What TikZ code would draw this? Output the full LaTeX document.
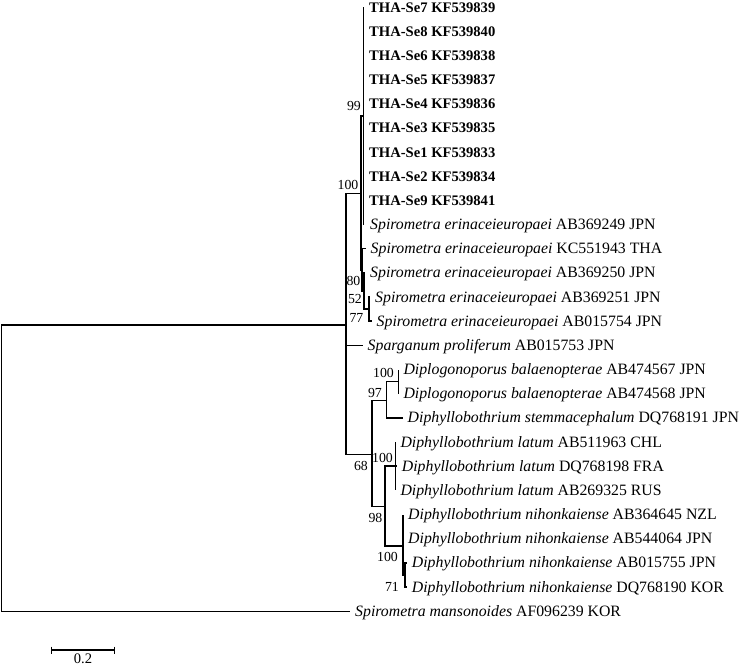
\documentclass[tikz,border=0pt]{standalone}
\usepackage{fontspec}
\setmainfont{Liberation Serif}
\usetikzlibrary{calc}
\begin{document}
\begin{tikzpicture}[x=1pt,y=-1pt,
  branch/.style={line width=1.5pt, line join=miter},
  taxon/.style={anchor=base west, inner sep=0pt, font=\fontsize{15.8}{18}\selectfont},
  thaon/.style={anchor=base west, inner sep=0pt, font=\fontsize{14.6}{17}\selectfont\bfseries},
  boot/.style={anchor=base east, inner sep=0pt, font=\fontsize{13.8}{16}\selectfont}]
\useasboundingbox (0,0) rectangle (743,665);
% leaf tips
\coordinate (L0) at (363.7,7.0);
\coordinate (L1) at (363.7,31.17);
\coordinate (L2) at (363.7,55.34);
\coordinate (L3) at (363.7,79.51);
\coordinate (L4) at (363.7,103.68);
\coordinate (L5) at (363.7,127.85);
\coordinate (L6) at (363.7,152.02);
\coordinate (L7) at (363.7,176.19);
\coordinate (L8) at (363.7,200.36);
\coordinate (L9) at (363.7,224.53);
\coordinate (L10) at (365.5,248.7);
\coordinate (L11) at (365,272.87);
\coordinate (L12) at (370,297.04);
\coordinate (L13) at (371.5,321.21);
\coordinate (L14) at (362.5,345.38);
\coordinate (L15) at (398.3,369.55);
\coordinate (L16) at (398.3,393.72);
\coordinate (L17) at (402.5,417.89);
\coordinate (L18) at (395.3,442.06);
\coordinate (L19) at (396.7,466.23);
\coordinate (L20) at (395.3,490.4);
\coordinate (L21) at (403,514.57);
\coordinate (L22) at (403,538.74);
\coordinate (L23) at (406.7,562.91);
\coordinate (L24) at (406.7,587.08);
\coordinate (L25) at (350,611.25);
% internal nodes
\coordinate (B) at (363.7,115.8);
\coordinate (E) at (369,309.1);
\coordinate (D) at (364,291);
\coordinate (C) at (362,269.85);
\coordinate (A) at (361,193.5);
\coordinate (NDip) at (398.3,381.6);
\coordinate (N97) at (386.7,400.5);
\coordinate (Nlat) at (395.3,466.2);
\coordinate (N71) at (405,575);
\coordinate (Nnih) at (403,546);
\coordinate (N98) at (385,506.5);
\coordinate (N68) at (372,454.5);
\coordinate (I) at (346,325);
\coordinate (R) at (1.7,468);
% branches
\draw[branch] (R) |- (I);
\draw[branch] (R) |- (L25);
\draw[branch] (I) |- (A);
\draw[branch] (I) |- (L14);
\draw[branch] (I) |- (N68);
\draw[branch] (A) |- (B);
\draw[branch] (A) |- (C);
\foreach \i in {0,...,9} {\draw[branch] (B) -- (L\i);}
\draw[branch] (C) |- (L10);
\draw[branch] (C) |- (D);
\draw[branch] (D) |- (L11);
\draw[branch] (D) |- (E);
\draw[branch] (E) |- (L12);
\draw[branch] (E) |- (L13);
\draw[branch] (N68) |- (N97);
\draw[branch] (N68) |- (N98);
\draw[branch] (N97) |- (NDip);
\draw[branch] (N97) |- (L17);
\draw[branch] (NDip) |- (L15);
\draw[branch] (NDip) |- (L16);
\draw[branch] (N98) |- (Nlat);
\draw[branch] (N98) |- (Nnih);
\draw[branch] (Nlat) |- (L18);
\draw[branch] (Nlat) |- (L19);
\draw[branch] (Nlat) |- (L20);
\draw[branch] (Nnih) |- (L21);
\draw[branch] (Nnih) |- (L22);
\draw[branch] (Nnih) |- (N71);
\draw[branch] (N71) |- (L23);
\draw[branch] (N71) |- (L24);
% taxon labels
\node[thaon] (T0) at ($(L0)+(5.3,5)$) {THA-Se7 KF539839};
\node[thaon] (T1) at ($(L1)+(5.3,5)$) {THA-Se8 KF539840};
\node[thaon] (T2) at ($(L2)+(5.3,5)$) {THA-Se6 KF539838};
\node[thaon] (T3) at ($(L3)+(5.3,5)$) {THA-Se5 KF539837};
\node[thaon] (T4) at ($(L4)+(5.3,5)$) {THA-Se4 KF539836};
\node[thaon] (T5) at ($(L5)+(5.3,5)$) {THA-Se3 KF539835};
\node[thaon] (T6) at ($(L6)+(5.3,5)$) {THA-Se1 KF539833};
\node[thaon] (T7) at ($(L7)+(5.3,5)$) {THA-Se2 KF539834};
\node[thaon] (T8) at ($(L8)+(5.3,5)$) {THA-Se9 KF539841};
\node[taxon] (T9) at ($(L9)+(6.3,5)$) {\textit{Spirometra erinaceieuropaei} AB369249 JPN};
\node[taxon] (T10) at ($(L10)+(5,5)$) {\textit{Spirometra erinaceieuropaei} KC551943 THA};
\node[taxon] (T11) at ($(L11)+(5,5)$) {\textit{Spirometra erinaceieuropaei} AB369250 JPN};
\node[taxon] (T12) at ($(L12)+(5,5)$) {\textit{Spirometra erinaceieuropaei} AB369251 JPN};
\node[taxon] (T13) at ($(L13)+(5,5)$) {\textit{Spirometra erinaceieuropaei} AB015754 JPN};
\node[taxon] (T14) at ($(L14)+(5,5)$) {\textit{Sparganum proliferum} AB015753 JPN};
\node[taxon] (T15) at ($(L15)+(5,5)$) {\textit{Diplogonoporus balaenopterae} AB474567 JPN};
\node[taxon] (T16) at ($(L16)+(5,5)$) {\textit{Diplogonoporus balaenopterae} AB474568 JPN};
\node[taxon] (T17) at ($(L17)+(5,5)$) {\textit{Diphyllobothrium stemmacephalum} DQ768191 JPN};
\node[taxon] (T18) at ($(L18)+(5,5)$) {\textit{Diphyllobothrium latum} AB511963 CHL};
\node[taxon] (T19) at ($(L19)+(5,5)$) {\textit{Diphyllobothrium latum} DQ768198 FRA};
\node[taxon] (T20) at ($(L20)+(5,5)$) {\textit{Diphyllobothrium latum} AB269325 RUS};
\node[taxon] (T21) at ($(L21)+(5,5)$) {\textit{Diphyllobothrium nihonkaiense} AB364645 NZL};
\node[taxon] (T22) at ($(L22)+(5,5)$) {\textit{Diphyllobothrium nihonkaiense} AB544064 JPN};
\node[taxon] (T23) at ($(L23)+(5,5)$) {\textit{Diphyllobothrium nihonkaiense} AB015755 JPN};
\node[taxon] (T24) at ($(L24)+(5,5)$) {\textit{Diphyllobothrium nihonkaiense} DQ768190 KOR};
\node[taxon] (T25) at ($(L25)+(5,5)$) {\textit{Spirometra mansonoides} AF096239 KOR};
% bootstrap values
\node[boot] (b99) at (361,110.5) {99};
\node[boot] (bA) at (358.5,189.5) {100};
\node[boot] (b80) at (360.5,285.5) {80};
\node[boot] (b52) at (362,303.5) {52};
\node[boot] (b77) at (363.5,322.5) {77};
\node[boot] (bDip) at (394,377.5) {100};
\node[boot] (b97) at (382,397.5) {97};
\node[boot] (b68) at (368,470.5) {68};
\node[boot] (blat) at (393,462.5) {100};
\node[boot] (b98) at (382.5,522.5) {98};
\node[boot] (bnih) at (398,561.5) {100};
\node[boot] (b71) at (399,591.5) {71};
% scale bar
\coordinate (s1) at (51.7,650);
\coordinate (s2) at (114.3,650);
\draw[branch] (s1) -- (s2);
\draw[branch] ($(s1)+(0,-3.5)$) -- ($(s1)+(0,3.5)$);
\draw[branch] ($(s2)+(0,-3.5)$) -- ($(s2)+(0,3.5)$);
\node[anchor=base, inner sep=0pt, font=\fontsize{14.6}{17}\selectfont] (sl) at (83,663) {0.2};
\end{tikzpicture}
\end{document}
